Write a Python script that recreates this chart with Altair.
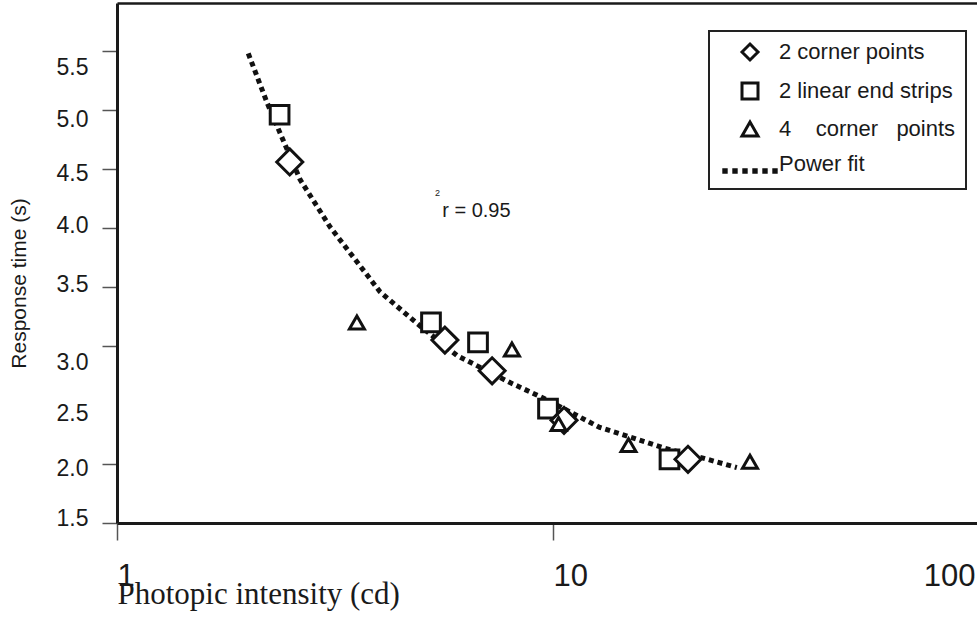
import altair as alt
import pandas as pd

# ---- measured values ----
SERIES = ["2 corner points", "2 linear end strips", "4 corner points", "Power fit"]

CORNER2_X = [2.49, 5.65, 7.25, 10.6, 20.4]
CORNER2_Y = [4.56, 3.05, 2.79, 2.37, 2.04]

STRIPS_X = [2.36, 5.25, 6.73, 9.74, 18.5]
STRIPS_Y = [4.96, 3.20, 3.03, 2.47, 2.04]

CORNER4_X = [3.55, 8.05, 10.3, 14.9, 28.3]
CORNER4_Y = [3.20, 2.97, 2.34, 2.16, 2.02]

FIT_X = [2.00, 2.21, 2.63, 3.08, 4.01, 4.88, 6.02, 7.97, 9.49, 12.8, 15.0, 17.8, 22.1, 26.4]
FIT_Y = [5.48, 5.06, 4.41, 4.01, 3.46, 3.19, 2.92, 2.69, 2.56, 2.31, 2.23, 2.14, 2.05, 1.97]

X_TICKS = [1, 10, 100]
Y_TICKS = [1.5, 2.0, 2.5, 3.0, 3.5, 4.0, 4.5, 5.0, 5.5]

NOTE_TEXT = ["r = 0.95", "2"]
NOTE_X = [5.57, 5.36]
NOTE_Y = [4.09, 4.27]
NOTE_FONT = [20, 9]

# ---- styling ----
INK = "#1a1a1a"
MARK_INK = "#111111"
SANS = "Liberation Sans"
SERIF = "Liberation Serif"
MARKER_AREA = {SERIES[0]: 676, SERIES[1]: 350, SERIES[2]: 225}
MARKER_SHAPE = {SERIES[0]: "diamond", SERIES[1]: "square", SERIES[2]: "triangle-up"}
Y_LABEL_SHIFT = {5.5: 16, 5.0: 9, 4.5: 4, 4.0: -3, 3.5: -3, 3.0: 16, 2.5: 8, 2.0: 4, 1.5: -5}

# legend glyph for the fitted curve: a row of small squares, dropped a little
dot_centres = [-3.125, -1.875, -0.625, 0.625, 1.875, 3.125]
DOT_Y = 0.875
DOTTED_PATH = " ".join(
    f"M{c - 0.15},{DOT_Y - 0.15}H{c + 0.15}V{DOT_Y + 0.15}H{c - 0.15}Z" for c in dot_centres
)
SHAPES = ["diamond", "square", "triangle-up", DOTTED_PATH]

# ---- tables ----
rows = []
for name, xs, ys in [(SERIES[1], STRIPS_X, STRIPS_Y),
                     (SERIES[0], CORNER2_X, CORNER2_Y),
                     (SERIES[2], CORNER4_X, CORNER4_Y)]:
    for x, y in zip(xs, ys):
        rows.append({"x": x, "y": y, "series": name})
points_df = pd.DataFrame(rows)
fit_df = pd.DataFrame({"x": FIT_X, "y": FIT_Y})
note_df = pd.DataFrame({"x": NOTE_X, "y": NOTE_Y, "t": NOTE_TEXT, "fs": NOTE_FONT})

xscale = alt.Scale(type="log", domain=[1, 100], range=[0, 872], nice=False)
yscale = alt.Scale(domain=[1.5, 5.907], nice=False, zero=False)

x_axis = alt.Axis(
    values=X_TICKS, format="d", grid=False,
    domainColor=INK, domainWidth=3,
    tickColor="#555", tickWidth=1.5, tickSize=17,
    labelFont=SANS, labelFontSize=31, labelColor=INK,
    labelBaseline="alphabetic", labelPadding=45, labelFlush=False, labelOverlap=False,
    labelAlign={"condition": {"test": "datum.value == 100", "value": "right"}, "value": "left"},
    labelOffset={"condition": {"test": "datum.value == 100", "value": -14}, "value": 0},
    title="Photopic intensity (cd)", titleFont=SERIF, titleFontSize=31,
    titleFontWeight="normal", titleColor=INK,
    titleX=0, titleY=80, titleAlign="left", titleBaseline="alphabetic",
)

y_axis = alt.Axis(
    values=Y_TICKS, format=".1f", grid=False,
    domainColor=INK, domainWidth=3,
    tickColor={"condition": {"test": "datum.value == 2.5", "value": "transparent"}, "value": "#555"},
    tickWidth=1.5, tickSize=15,
    labelFont=SANS, labelFontSize=23, labelColor=INK, labelPadding=14,
    labelFlush=False, labelOverlap=False,
    labelOffset={
        "condition": [
            {"test": f"abs(datum.value - {v}) < 0.01", "value": s}
            for v, s in Y_LABEL_SHIFT.items()
        ],
        "value": 0,
    },
    title="Response time (s)", titleFont=SANS, titleFontSize=21,
    titleFontWeight="normal", titleColor=INK,
    titleX=-98, titleY=280, titleAngle=270, titleAlign="center", titleBaseline="middle",
)

four_label = "4" + "\u00a0" * 4 + "corner" + "\u00a0" * 3 + "points"
legend = alt.Legend(
    title=None, orient="none", legendX=592, legendY=28,
    padding=10, symbolOffset=20, labelOffset=18, rowPadding=11, labelLimit=400,
    symbolSize=256, symbolFillColor="white", symbolStrokeColor=MARK_INK, symbolStrokeWidth=3,
    labelFont=SANS, labelFontSize=22, labelColor=INK, strokeColor="#222",
    labelExpr=f"datum.label === '4 corner points' ? '{four_label}' : datum.label",
)
shape_enc = alt.Shape("series:N", scale=alt.Scale(domain=SERIES, range=SHAPES), legend=legend)

fit_line = alt.Chart(fit_df).mark_line(
    stroke=MARK_INK, strokeWidth=5, strokeDash=[5, 4], strokeCap="butt"
).encode(
    x=alt.X("x:Q", scale=xscale, axis=None),
    y=alt.Y("y:Q", scale=yscale, axis=y_axis),
)


def backing_layer(name):
    # white interior behind each open marker
    return alt.Chart(points_df).transform_filter(
        alt.datum.series == name
    ).mark_point(
        shape=MARKER_SHAPE[name], filled=True, color="white", opacity=1,
        size=MARKER_AREA[name],
    ).encode(
        x=alt.X("x:Q", scale=xscale, axis=None),
        y=alt.Y("y:Q", scale=yscale, axis=y_axis),
    )


def marker_layer(name, axis):
    return alt.Chart(points_df).transform_filter(
        alt.datum.series == name
    ).mark_point(
        filled=False, color=MARK_INK, stroke=MARK_INK,
        strokeWidth=3, opacity=1, size=MARKER_AREA[name],
    ).encode(
        x=alt.X("x:Q", scale=xscale, axis=axis),
        y=alt.Y("y:Q", scale=yscale, axis=y_axis),
        shape=shape_enc,
    )


layers = [fit_line]
for s, ax in [(SERIES[1], x_axis), (SERIES[0], None), (SERIES[2], None)]:
    layers.append(backing_layer(s))
    layers.append(marker_layer(s, ax))

notes = alt.Chart(note_df).mark_text(
    align="left", baseline="alphabetic", font=SANS, color=INK
).encode(
    x=alt.X("x:Q", scale=xscale, axis=None),
    y=alt.Y("y:Q", scale=yscale, axis=y_axis),
    text="t:N",
    size=alt.Size("fs:Q", scale=None),
)

# top edge of the frame, drawn as a bare axis line
top_edge = alt.Chart(fit_df).mark_line(opacity=0).encode(
    x=alt.X("x:Q", scale=xscale, axis=alt.Axis(
        orient="top", ticks=False, labels=False, domain=True, grid=False,
        domainColor=INK, domainWidth=2.5, title=None)),
    y=alt.Y("y:Q", scale=yscale, axis=y_axis),
)

chart = alt.layer(*layers, notes, top_edge).resolve_axis(
    x="independent"
).properties(
    width=860, height=520,
    autosize=alt.AutoSizeParams(type="none"),
    padding={"left": 117, "top": 3, "right": 0, "bottom": 108},
    background="white",
).configure_view(stroke=None).configure_legend(strokeWidth=2)

chart.save("out.html", embed_options={"renderer": "svg", "actions": False})
